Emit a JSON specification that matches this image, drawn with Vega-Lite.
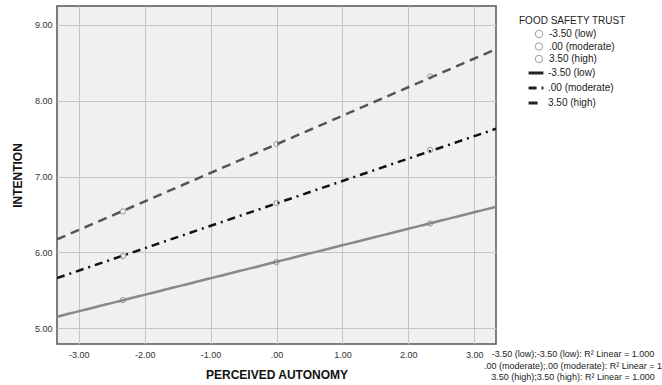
{
  "$schema": "https://vega.github.io/schema/vega-lite/v6.json",
  "width": 439,
  "height": 338,
  "autosize": "none",
  "padding": {"left": 57, "top": 6, "right": 166, "bottom": 41},
  "background": "white",
  "config": {
    "font": "Liberation Sans",
    "view": {"fill": "#f0f0f0", "stroke": "#555555", "strokeWidth": 1.5},
    "axis": {
      "grid": true, "gridColor": "#c4c4c4", "gridWidth": 1,
      "domain": false, "ticks": false,
      "labelFont": "Liberation Sans", "labelFontSize": 9, "labelColor": "#333333",
      "titleFont": "Liberation Sans", "titleFontSize": 12, "titleFontWeight": "bold", "titleColor": "#111111"
    },
    "legend": {"labelFont": "Liberation Sans", "titleFont": "Liberation Sans", "labelFontWeight": "normal"}
  },
  "title": {
    "text": ["-3.50 (low);-3.50 (low): R² Linear = 1.000", ".00 (moderate);.00 (moderate): R² Linear = 1", "3.50 (high);3.50 (high): R² Linear = 1.000"],
    "orient": "bottom", "anchor": "end", "align": "center", "frame": "group",
    "fontSize": 9, "fontWeight": "normal", "color": "#222222", "lineHeight": 11.5,
    "dx": 77, "offset": -30
  },
  "layer": [
    {
      "data": {"values": [
        {"autonomy": -3.33, "intention": 5.15, "series": "-3.50 (low)"},
        {"autonomy": 3.33, "intention": 6.60, "series": "-3.50 (low)"},
        {"autonomy": -3.33, "intention": 5.66, "series": ".00 (moderate)"},
        {"autonomy": 3.33, "intention": 7.63, "series": ".00 (moderate)"},
        {"autonomy": -3.33, "intention": 6.17, "series": "3.50 (high)"},
        {"autonomy": 3.33, "intention": 8.68, "series": "3.50 (high)"}
      ]},
      "mark": {"type": "line", "strokeWidth": 2.5, "clip": true},
      "encoding": {
        "x": {"field": "autonomy", "type": "quantitative",
          "scale": {"domain": [-3.33, 3.33], "nice": false, "zero": false},
          "axis": {"values": [-3, -2, -1, 0, 1, 2, 3], "labelExpr": "datum.value == 0 ? '.00' : replace(format(datum.value, '.2f'), '−', '-')", "labelPadding": 6, "title": "PERCEIVED AUTONOMY", "titlePadding": 10}},
        "y": {"field": "intention", "type": "quantitative",
          "scale": {"domain": [4.79, 9.25], "nice": false, "zero": false},
          "axis": {"values": [5, 6, 7, 8, 9], "labelExpr": "format(datum.value, '.2f')", "labelPadding": 5, "title": "INTENTION", "titlePadding": 10}},
        "stroke": {"field": "series", "type": "nominal",
          "scale": {"domain": ["-3.50 (low)", ".00 (moderate)", "3.50 (high)"], "range": ["#888888", "#111111", "#555555"]},
          "legend": null},
        "strokeDash": {"field": "series", "type": "nominal",
          "scale": {"domain": ["-3.50 (low)", ".00 (moderate)", "3.50 (high)"], "range": [[1, 0], [8, 5, 2, 5], [9, 6]]},
          "legend": {"title": null, "orient": "none", "legendX": 470, "legendY": 58, "symbolType": "stroke", "symbolSize": 220, "symbolStrokeWidth": 3, "symbolStrokeColor": "#222222", "labelFontSize": 10, "labelColor": "#222222", "labelOffset": 3, "rowPadding": -3.5}},
        "order": {"field": "autonomy"}
      }
    },
    {
      "data": {"values": [
        {"autonomy": -2.33, "intention": 5.37, "trust": "-3.50 (low)"},
        {"autonomy": 0, "intention": 5.87, "trust": "-3.50 (low)"},
        {"autonomy": 2.33, "intention": 6.38, "trust": "-3.50 (low)"},
        {"autonomy": -2.33, "intention": 5.95, "trust": ".00 (moderate)"},
        {"autonomy": 0, "intention": 6.65, "trust": ".00 (moderate)"},
        {"autonomy": 2.33, "intention": 7.35, "trust": ".00 (moderate)"},
        {"autonomy": -2.33, "intention": 6.54, "trust": "3.50 (high)"},
        {"autonomy": 0, "intention": 7.43, "trust": "3.50 (high)"},
        {"autonomy": 2.33, "intention": 8.32, "trust": "3.50 (high)"}
      ]},
      "mark": {"type": "point", "filled": false, "size": 28, "strokeWidth": 1, "color": "#777777"},
      "encoding": {
        "x": {"field": "autonomy", "type": "quantitative"},
        "y": {"field": "intention", "type": "quantitative"},
        "shape": {"field": "trust", "type": "nominal",
          "scale": {"range": ["circle", "circle", "circle"]},
          "legend": {"title": "FOOD SAFETY TRUST", "orient": "none", "legendX": 462, "legendY": 10,
            "titleFontSize": 10, "titleFontWeight": "normal", "titleColor": "#222222", "titlePadding": 3,
            "labelFontSize": 10, "labelColor": "#222222", "symbolOffset": 15, "symbolSize": 55,
            "symbolStrokeColor": "#777777", "symbolFillColor": "transparent", "symbolStrokeWidth": 1, "labelOffset": 5, "rowPadding": 0.5}}
      }
    }
  ],
  "resolve": {"scale": {"stroke": "independent"}}
}
